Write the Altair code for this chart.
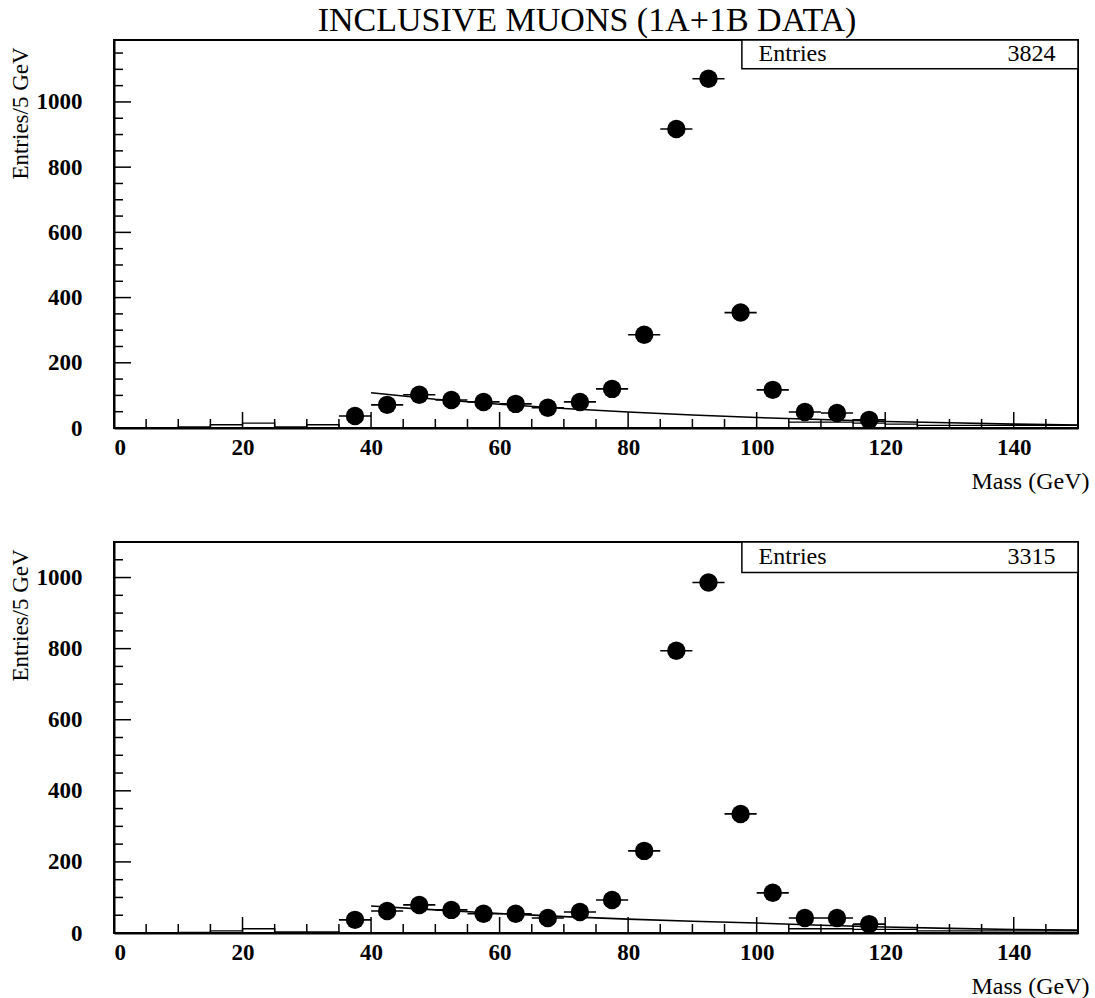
import altair as alt
import pandas as pd

# ---------------- data ----------------
bin_centers = [37.5, 42.5, 47.5, 52.5, 57.5, 62.5, 67.5, 72.5, 77.5,
               82.5, 87.5, 92.5, 97.5, 102.5, 107.5, 112.5, 117.5]
top_counts = [37, 71, 102, 86, 80, 74, 62, 80, 120, 286, 917, 1071, 354, 117, 49, 46, 25]
bot_counts = [37, 62, 79, 65, 54, 54, 42, 59, 93, 231, 794, 986, 335, 113, 42, 42, 25]

fit_x = [40, 50, 60, 70, 80, 90, 100, 110, 120, 130, 140, 150]
top_fit = [108, 88, 73, 60, 49, 40, 32, 26, 20, 16, 12, 9]
bot_fit = [76, 65, 55, 46, 39, 33, 28, 22, 17, 13, 10, 8]

hist_low_edges = [0, 5, 10, 15, 20, 25, 30, 35, 40]
top_hist_low = [0, 0, 3, 10, 15, 3, 10, 0, 0]
bot_hist_low = [0, 0, 2, 6, 12, 3, 3, 0, 0]
hist_high_edges = [105, 110, 115, 120, 125, 130, 135, 140, 145, 150]
top_hist_high = [18, 18, 15, 12, 8, 8, 8, 8, 8, 8]
bot_hist_high = [12, 12, 10, 10, 6, 6, 6, 6, 6, 6]

x_major = [0, 20, 40, 60, 80, 100, 120, 140]
x_minor = [v for v in range(5, 150, 5) if v % 20 != 0]
y_major = [0, 200, 400, 600, 800, 1000]
y_minor = [v for v in range(50, 1200, 50) if v % 200 != 0]

top_entries = "3824"
bot_entries = "3315"
title_text = "INCLUSIVE MUONS (1A+1B DATA)"

FONT = "Liberation Serif"
W = 964


def panel(counts, fit, hlow, hhigh, ymax, box_bottom, entries, H, y_major_, y_minor_, title=None):
    xs = alt.Scale(domain=[0, 150], nice=False, zero=False)
    ys = alt.Scale(domain=[0, ymax], nice=False)
    xaxis = alt.Axis(values=x_major, format="d", ticks=False, tickSize=0, grid=False,
                     labelFont=FONT, labelFontSize=23, labelFontWeight="bold", labelColor="black",
                     labelPadding=8, domainColor="black", domainWidth=2,
                     title="Mass (GeV)", titleFont=FONT, titleFontSize=24, titleFontWeight="normal",
                     titleColor="black", titleAnchor="end", titleAlign="right", titleBaseline="middle",
                     titleX=W + 11, titleY=53)
    yaxis = alt.Axis(values=y_major_, format="d", ticks=False, tickSize=0, grid=False,
                     labelFont=FONT, labelFontSize=23, labelFontWeight="bold", labelColor="black",
                     labelPadding=32, domainColor="black", domainWidth=2,
                     title="Entries/5 GeV", titleFont=FONT, titleFontSize=23, titleFontWeight="normal",
                     titleColor="black", titleAngle=270, titleAlign="center", titleBaseline="middle",
                     titleX=-94, titleY=73)

    pts = pd.DataFrame({"x": bin_centers, "y": counts,
                        "lo": [c - 2.5 for c in bin_centers], "hi": [c + 2.5 for c in bin_centers]})
    fitdf = pd.DataFrame({"x": fit_x, "y": fit})
    hist = pd.DataFrame({
        "x": hist_low_edges + hist_high_edges,
        "y": hlow + hhigh,
        "seg": ["low"] * len(hist_low_edges) + ["high"] * len(hist_high_edges),
    })
    xt = pd.DataFrame({"x": x_major + x_minor,
                       "len": ["major"] * len(x_major) + ["minor"] * len(x_minor)})
    yt = pd.DataFrame({"y": y_major_ + y_minor_,
                       "len": ["major"] * len(y_major_) + ["minor"] * len(y_minor_)})

    base_x = alt.X("x:Q", scale=xs, axis=xaxis)
    base_y = alt.Y("y:Q", scale=ys, axis=yaxis)

    histl = alt.Chart(hist).mark_line(interpolate="step-after", color="black", strokeWidth=1.3).encode(
        x=base_x, y=base_y, detail="seg:N")
    fitl = alt.Chart(fitdf).mark_line(color="black", strokeWidth=1.6).encode(x="x:Q", y="y:Q")
    hbar = alt.Chart(pts).mark_rule(color="black", strokeWidth=1.6).encode(
        x="lo:Q", x2="hi:Q", y="y:Q")
    dots = alt.Chart(pts).mark_circle(size=340, color="black", opacity=1).encode(x="x:Q", y="y:Q")

    xmaj = alt.Chart(xt[xt["len"] == "major"]).mark_rule(color="black", strokeWidth=1.5).encode(
        x="x:Q", y=alt.value(H), y2=alt.value(H - 16))
    xmin = alt.Chart(xt[xt["len"] == "minor"]).mark_rule(color="black", strokeWidth=1.5).encode(
        x="x:Q", y=alt.value(H), y2=alt.value(H - 9))
    ymaj = alt.Chart(yt[yt["len"] == "major"]).mark_rule(color="black", strokeWidth=1.5).encode(
        y="y:Q", x=alt.value(0), x2=alt.value(17))
    ymin = alt.Chart(yt[yt["len"] == "minor"]).mark_rule(color="black", strokeWidth=1.5).encode(
        y="y:Q", x=alt.value(0), x2=alt.value(9))

    boxdf = pd.DataFrame({"x1": [97.7], "x2": [150], "y1": [box_bottom], "y2": [ymax],
                          "lab": ["Entries"], "val": [entries],
                          "lx": [100.3], "rx": [146.5], "my": [(box_bottom + ymax) / 2]})
    box = alt.Chart(boxdf).mark_rect(fill="white", stroke="black", strokeWidth=1.5).encode(
        x="x1:Q", x2="x2:Q", y="y1:Q", y2="y2:Q")
    lab = alt.Chart(boxdf).mark_text(font=FONT, fontSize=24, align="left", baseline="middle",
                                     color="black").encode(x="lx:Q", y="my:Q", text="lab:N")
    val = alt.Chart(boxdf).mark_text(font=FONT, fontSize=24, align="right", baseline="middle",
                                     color="black").encode(x="rx:Q", y="my:Q", text="val:N")

    layer = alt.layer(histl, fitl, xmaj, xmin, ymaj, ymin, hbar, dots, box, lab, val)
    props = dict(width=W, height=H)
    if title is not None:
        props["title"] = alt.TitleParams(title, font=FONT, fontSize=34, fontWeight="normal",
                                         color="black", anchor="middle", offset=1, dx=-9)
    return layer.properties(**props)


top = panel(top_counts, top_fit, top_hist_low, top_hist_high, 1190, 1101.5, top_entries, 388,
            y_major, y_minor, title=title_text)
bot = panel(bot_counts, bot_fit, bot_hist_low, bot_hist_high, 1100, 1014, bot_entries, 391,
            y_major, [v for v in y_minor if v < 1100])

chart = alt.vconcat(top, bot, spacing=46).properties(
    padding={"left": 8, "top": 3, "right": 2, "bottom": 2},
    background="white",
).configure_view(stroke="black", strokeWidth=2).configure_concat(spacing=46)

chart.save("out.html", embed_options={"renderer": "svg", "actions": False})
